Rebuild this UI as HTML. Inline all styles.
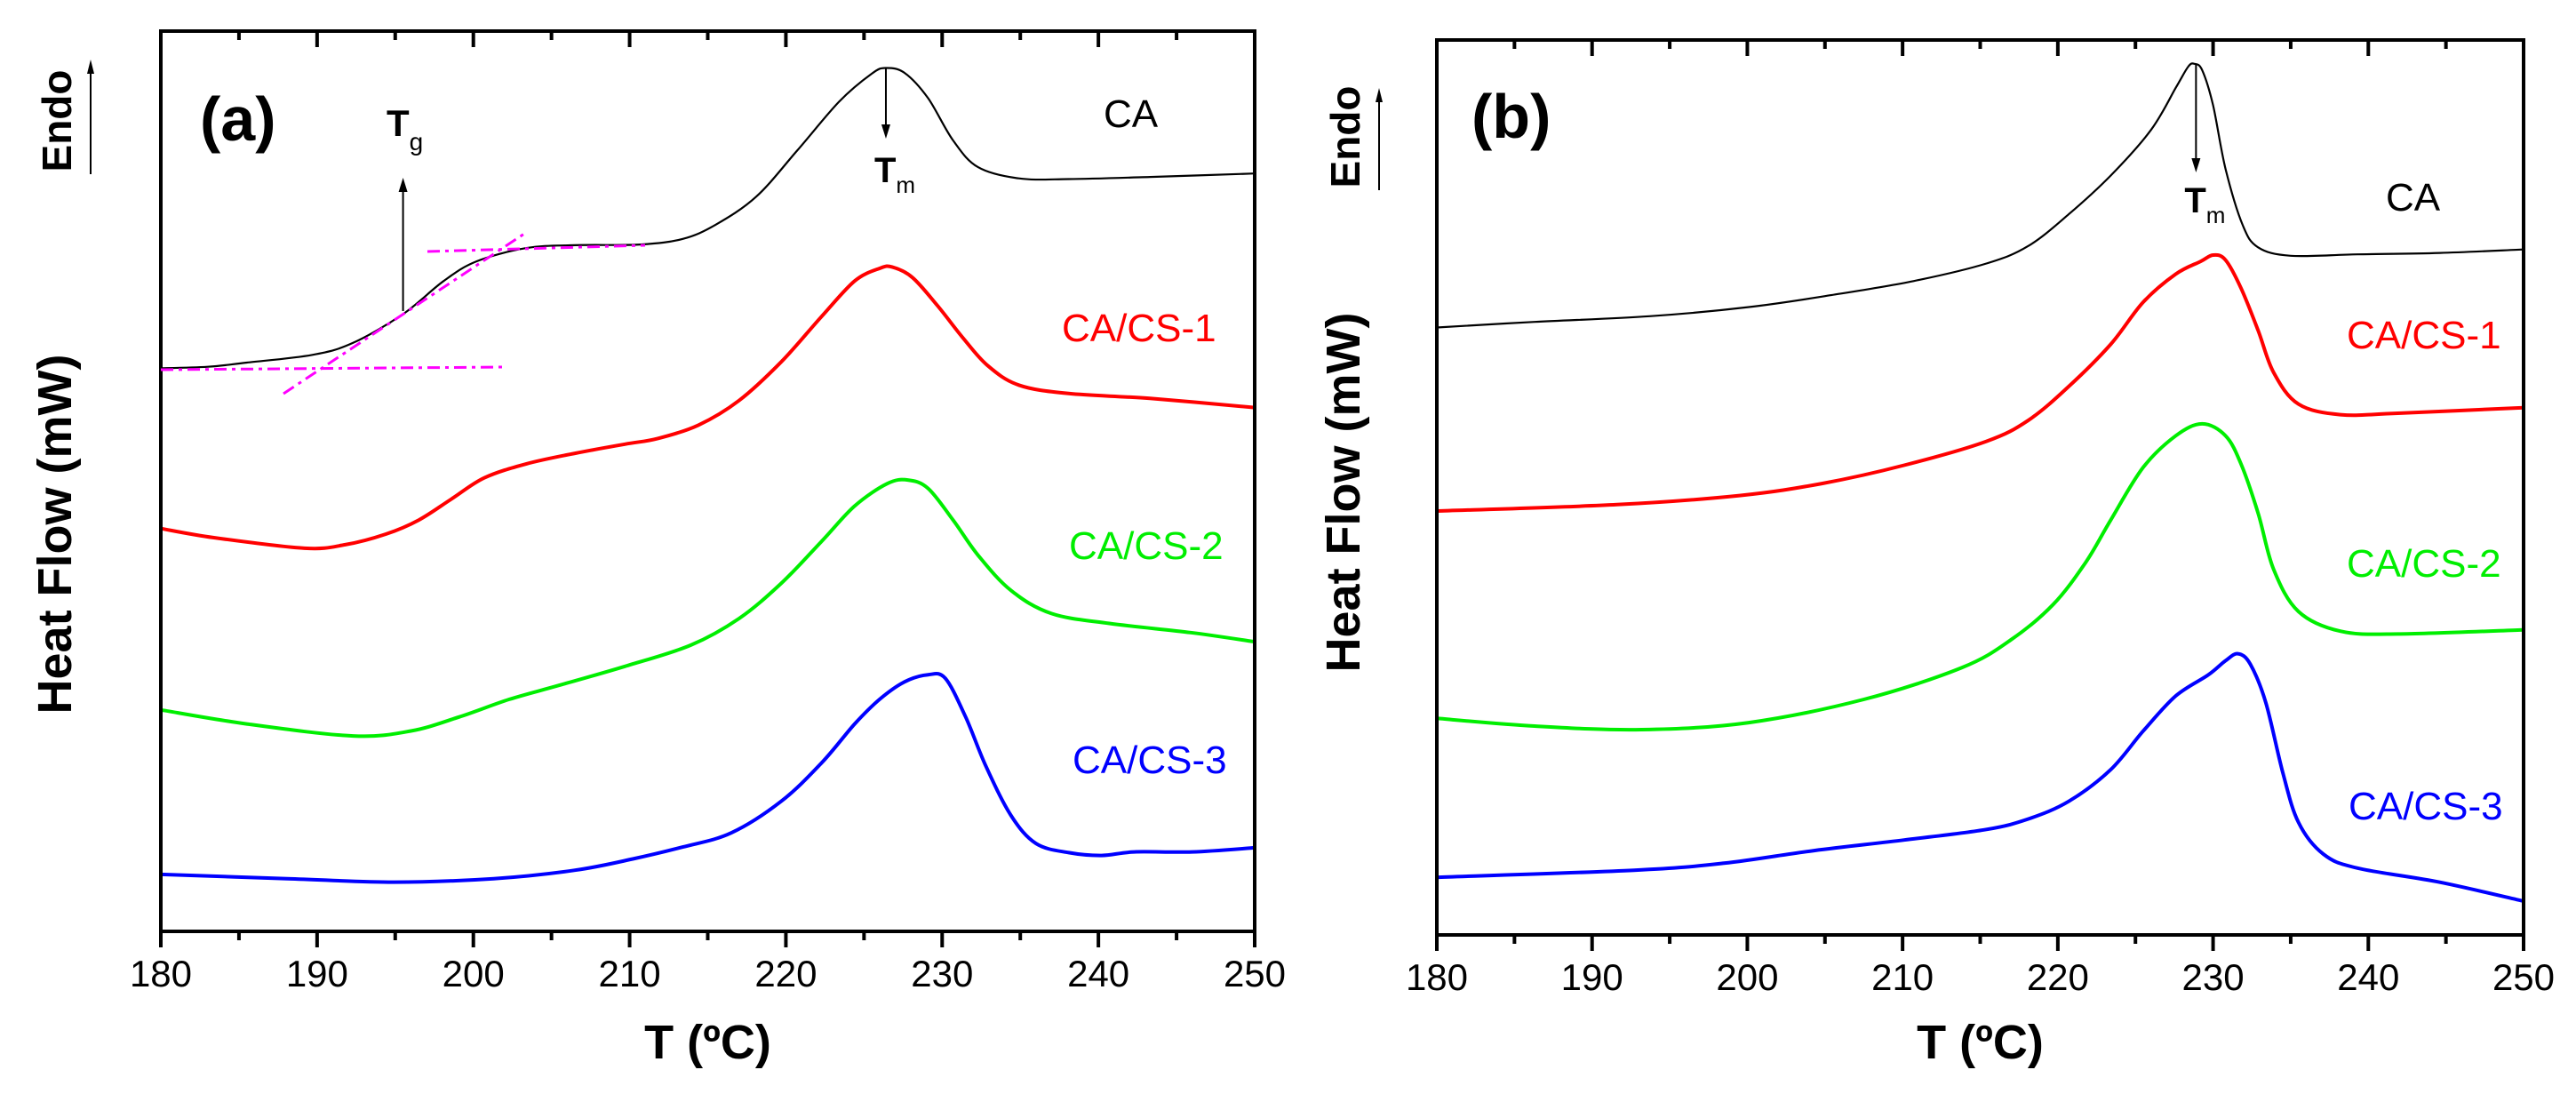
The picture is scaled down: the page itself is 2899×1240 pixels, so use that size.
<!DOCTYPE html>
<html><head><meta charset="utf-8">
<style>
html,body{margin:0;padding:0;background:#fff;}
svg{display:block;font-family:"Liberation Sans",Arial,sans-serif;}
</style></head>
<body>
<svg id="fig" width="2899" height="1240" viewBox="0 0 2899 1240" xmlns="http://www.w3.org/2000/svg"></svg>
<script>
// ---------- data (T in °C, heat flow in arbitrary mW units, offset curves) ----------
const xTicks = [180, 190, 200, 210, 220, 230, 240, 250];
const seriesNames = ["CA", "CA/CS-1", "CA/CS-2", "CA/CS-3"];

const aCA_T = [180,183,185.5,189.7,192.3,195.5,198.1,200.2,203.4,206.5,210.7,213.4,215.5,218.1,220.7,223.4,225.5,226.4,227.6,229.1,230.7,232.3,234.9,238.1,243.3,250];
const aCA_V = [8.01,8.03,8.09,8.20,8.37,8.78,9.25,9.53,9.72,9.76,9.77,9.85,10.05,10.45,11.10,11.80,12.20,12.28,12.21,11.85,11.25,10.87,10.71,10.70,10.73,10.78];
const aCS1_T = [180,183.4,189.2,191.8,194.4,196.5,198.6,200.7,203.4,206.5,209.7,211.8,214.4,217.0,219.7,222.3,224.4,226.0,226.8,228.1,229.7,231.3,232.9,234.9,238.1,243.3,250];
const aCS1_V = [5.73,5.60,5.45,5.50,5.65,5.85,6.15,6.45,6.65,6.80,6.93,7.01,7.20,7.55,8.10,8.75,9.25,9.43,9.45,9.30,8.90,8.45,8.05,7.77,7.65,7.58,7.45];
const aCS2_T = [180,185.5,192.3,196.0,199.1,202.3,205.5,209.7,213.9,217.0,219.7,222.3,224.4,226.5,227.8,229.1,230.7,232.3,234.4,237.0,240.7,245.9,250];
const aCS2_V = [3.15,2.95,2.78,2.85,3.05,3.30,3.50,3.77,4.07,4.45,4.95,5.55,6.05,6.37,6.42,6.30,5.85,5.35,4.85,4.52,4.38,4.25,4.12];
const aCS3_T = [180,188.1,194.9,201.3,206.5,210.2,213.4,216.5,219.7,222.3,224.4,226.0,227.6,229.1,230.2,231.5,232.8,234.4,236.0,238.1,240.2,242.3,246.0,250];
const aCS3_V = [0.81,0.75,0.70,0.75,0.87,1.03,1.20,1.40,1.85,2.40,2.95,3.30,3.55,3.65,3.60,3.05,2.35,1.65,1.25,1.12,1.08,1.13,1.13,1.19];

const bCA_T = [180,186.3,193.7,200.1,205.4,210.7,215.4,218.1,220.7,223.4,226.0,227.6,228.4,228.8,229.3,230.0,230.8,231.9,232.9,235.0,239.3,244.6,250];
const bCA_V = [8.64,8.72,8.80,8.93,9.10,9.30,9.55,9.80,10.25,10.80,11.45,12.05,12.35,12.39,12.30,11.80,10.90,10.10,9.78,9.66,9.68,9.70,9.75];
const bCS1_T = [180,191.6,199.5,204.8,210.1,215.4,218.1,220.7,223.4,225.5,227.6,229.2,230.0,230.8,231.8,232.9,233.9,235.5,238.2,241.9,250];
const bCS1_V = [6.03,6.12,6.25,6.42,6.68,7.02,7.32,7.80,8.40,9.00,9.40,9.58,9.67,9.60,9.20,8.60,8.00,7.55,7.40,7.42,7.50];
const bCS2_T = [180,186.3,193.2,200.1,207.5,213.8,217.0,219.7,221.8,223.4,225.5,227.6,229.3,230.8,231.8,232.9,233.9,235.5,238.2,241.9,250];
const bCS2_V = [3.08,2.97,2.92,3.02,3.35,3.80,4.20,4.70,5.30,5.90,6.65,7.10,7.27,7.10,6.70,6.00,5.20,4.60,4.32,4.28,4.34];
const bCS3_T = [180,192.7,198.5,204.3,210.1,215.4,218.1,220.7,223.4,225.5,227.6,229.7,230.8,231.6,232.4,233.4,234.5,235.5,237.1,239.3,244.6,250];
const bCS3_V = [0.82,0.92,1.02,1.20,1.35,1.50,1.65,1.90,2.35,2.90,3.40,3.70,3.90,4.00,3.85,3.30,2.30,1.60,1.15,0.95,0.75,0.48];

const tgT = 195.5;   // Tg marker (panel a)
const tmA = 226.4;   // Tm marker (panel a)
const tmB = 228.9;   // Tm marker (panel b)

// ---------- drawing ----------
const NS = "http://www.w3.org/2000/svg";
const svg = document.getElementById("fig");
function el(tag, attrs, parent) {
  const e = document.createElementNS(NS, tag);
  for (const k in attrs) e.setAttribute(k, attrs[k]);
  (parent || svg).appendChild(e);
  return e;
}
function txt(s, attrs, parent) { const t = el("text", attrs, parent); t.textContent = s; return t; }

// smooth path through points (Catmull-Rom -> cubic Bezier)
function smoothPath(pts) {
  let d = "M" + pts[0][0].toFixed(1) + " " + pts[0][1].toFixed(1);
  for (let i = 0; i < pts.length - 1; i++) {
    const p0 = pts[i - 1] || pts[i], p1 = pts[i], p2 = pts[i + 1], p3 = pts[i + 2] || p2;
    const c1x = p1[0] + (p2[0] - p0[0]) / 6, c1y = p1[1] + (p2[1] - p0[1]) / 6;
    const c2x = p2[0] - (p3[0] - p1[0]) / 6, c2y = p2[1] - (p3[1] - p1[1]) / 6;
    d += ` C${c1x.toFixed(1)} ${c1y.toFixed(1)} ${c2x.toFixed(1)} ${c2y.toFixed(1)} ${p2[0].toFixed(1)} ${p2[1].toFixed(1)}`;
  }
  return d;
}

const colors = ["#000000", "#ff0000", "#00ee00", "#0000ff"];
const widths = [2.2, 4, 4, 4];

function panel(cfg) {
  const g = el("g", {});
  
  
  const xs = t => cfg.x0 + (t - 180) / 70 * (cfg.x1 - cfg.x0);
  const ys = v => cfg.y1 - v * cfg.k;

  cfg.series.forEach((s, i) => {
    const pts = s.T.map((t, j) => [xs(t), ys(s.V[j])]);
    const p = el("path", {d: smoothPath(pts), fill: "none", stroke: colors[i], "stroke-width": widths[i], "stroke-linejoin": "round"}, g);
    
    
  });

  const fr = el("rect", {x: cfg.x0, y: cfg.y0, width: cfg.x1 - cfg.x0, height: cfg.y1 - cfg.y0, fill: "none", stroke: "#000", "stroke-width": 4}, g);
  
  

  for (let t = 180; t <= 250; t += 5) {
    const major = t % 10 === 0;
    const x = xs(t);
    el("line", {x1: x, y1: cfg.y1, x2: x, y2: cfg.y1 + (major ? 18 : 10), stroke: "#000", "stroke-width": 4}, g);
    el("line", {x1: x, y1: cfg.y0, x2: x, y2: cfg.y0 + (major ? 18 : 10), stroke: "#000", "stroke-width": 4}, g);
  }
  xTicks.forEach(t => {
    const lb = txt(String(t), {x: xs(t), y: cfg.y1 + 62, "font-size": 42, "text-anchor": "middle"}, g);
    
    
  });
  const xt = txt("T (ºC)", {x: (cfg.x0 + cfg.x1) / 2, y: 1191, "font-size": 54, "font-weight": "bold", "text-anchor": "middle"}, g);
  
  

  const yt = txt("Heat Flow (mW)", {x: 0, y: 0, "font-size": 54, "font-weight": "bold", "text-anchor": "middle", transform: `translate(${cfg.yTitleX},${cfg.yTitleY}) rotate(-90)`}, g);
  
  

  const en = txt("Endo", {x: 0, y: 0, "font-size": 46, "font-weight": "bold", "text-anchor": "middle", transform: `translate(${cfg.yTitleX},${cfg.endoY}) rotate(-90)`}, g);
  
  
  el("line", {x1: cfg.endoArrowX, y1: cfg.endoArrowY1, x2: cfg.endoArrowX, y2: cfg.endoArrowY0 + 14, stroke: "#000", "stroke-width": 2}, g);
  el("path", {d: `M${cfg.endoArrowX - 4} ${cfg.endoArrowY0 + 16} L${cfg.endoArrowX} ${cfg.endoArrowY0} L${cfg.endoArrowX + 4} ${cfg.endoArrowY0 + 16} Z`, fill: "#000"}, g);

  const pl = txt(cfg.label, {x: cfg.labelX, y: cfg.labelY, "font-size": 70, "font-weight": "bold"}, g);
  
  

  cfg.curveLabels.forEach((c, i) => {
    const l = txt(seriesNames[i], {x: c[0], y: c[1], "font-size": 44, fill: colors[i]}, g);
    
    
  });

  const tx = xs(cfg.tm);
  el("line", {x1: tx, y1: cfg.tmY0, x2: tx, y2: cfg.tmY1 - 14, stroke: "#000", "stroke-width": 2}, g);
  el("path", {d: `M${tx - 5} ${cfg.tmY1 - 16} L${tx} ${cfg.tmY1} L${tx + 5} ${cfg.tmY1 - 16} Z`, fill: "#000"}, g);
  const tm = el("text", {x: tx - 13, y: cfg.tmLabelY, "font-size": 40, "font-weight": "bold"}, g);
  
  
  tm.innerHTML = 'T<tspan font-size="26" font-weight="normal" dy="12">m</tspan>';
  return {g, xs, ys};
}

const A = panel({
  name: "panel-a", x0: 181, x1: 1412, y0: 35, y1: 1048, k: 79.11, label: "(a)", labelX: 225, labelY: 158,
  yTitleX: 80, yTitleY: 601, endoY: 136, endoArrowX: 102, endoArrowY0: 67, endoArrowY1: 196,
  series: [{T: aCA_T, V: aCA_V}, {T: aCS1_T, V: aCS1_V}, {T: aCS2_T, V: aCS2_V}, {T: aCS3_T, V: aCS3_V}],
  curveLabels: [[1242, 143], [1195, 384], [1203, 629], [1207, 870]],
  tm: tmA, tmY0: 77, tmY1: 156, tmLabelY: 205
});
const B = panel({
  name: "panel-b", x0: 1617, x1: 2840, y0: 45, y1: 1052, k: 79.11, label: "(b)", labelX: 1656, labelY: 155,
  yTitleX: 1530, yTitleY: 554, endoY: 154, endoArrowX: 1552, endoArrowY0: 99, endoArrowY1: 214,
  series: [{T: bCA_T, V: bCA_V}, {T: bCS1_T, V: bCS1_V}, {T: bCS2_T, V: bCS2_V}, {T: bCS3_T, V: bCS3_V}],
  curveLabels: [[2685, 237], [2641, 392], [2641, 649], [2643, 922]],
  tm: tmB, tmY0: 72, tmY1: 194, tmLabelY: 239
});

// Tg construction lines (panel a)
const tgLines = [[[181,416],[569,413]], [[319,443],[590,263]], [[481,283],[726,276]]];
tgLines.forEach(l => {
  const ln = el("line", {x1: l[0][0], y1: l[0][1], x2: l[1][0], y2: l[1][1], stroke: "#ff00ff", "stroke-width": 3, "stroke-dasharray": "14 6 4 6"}, A.g);
  
  
});
const tgx = A.xs(tgT);
el("line", {x1: tgx, y1: 350, x2: tgx, y2: 214, stroke: "#000", "stroke-width": 2}, A.g);
el("path", {d: `M${tgx - 5} ${216} L${tgx} ${200} L${tgx + 5} ${216} Z`, fill: "#000"}, A.g);
const tg = el("text", {x: 435, y: 153, "font-size": 42, "font-weight": "bold"}, A.g);


tg.innerHTML = 'T<tspan font-size="28" font-weight="normal" dy="16">g</tspan>';
</script>
</body></html>
